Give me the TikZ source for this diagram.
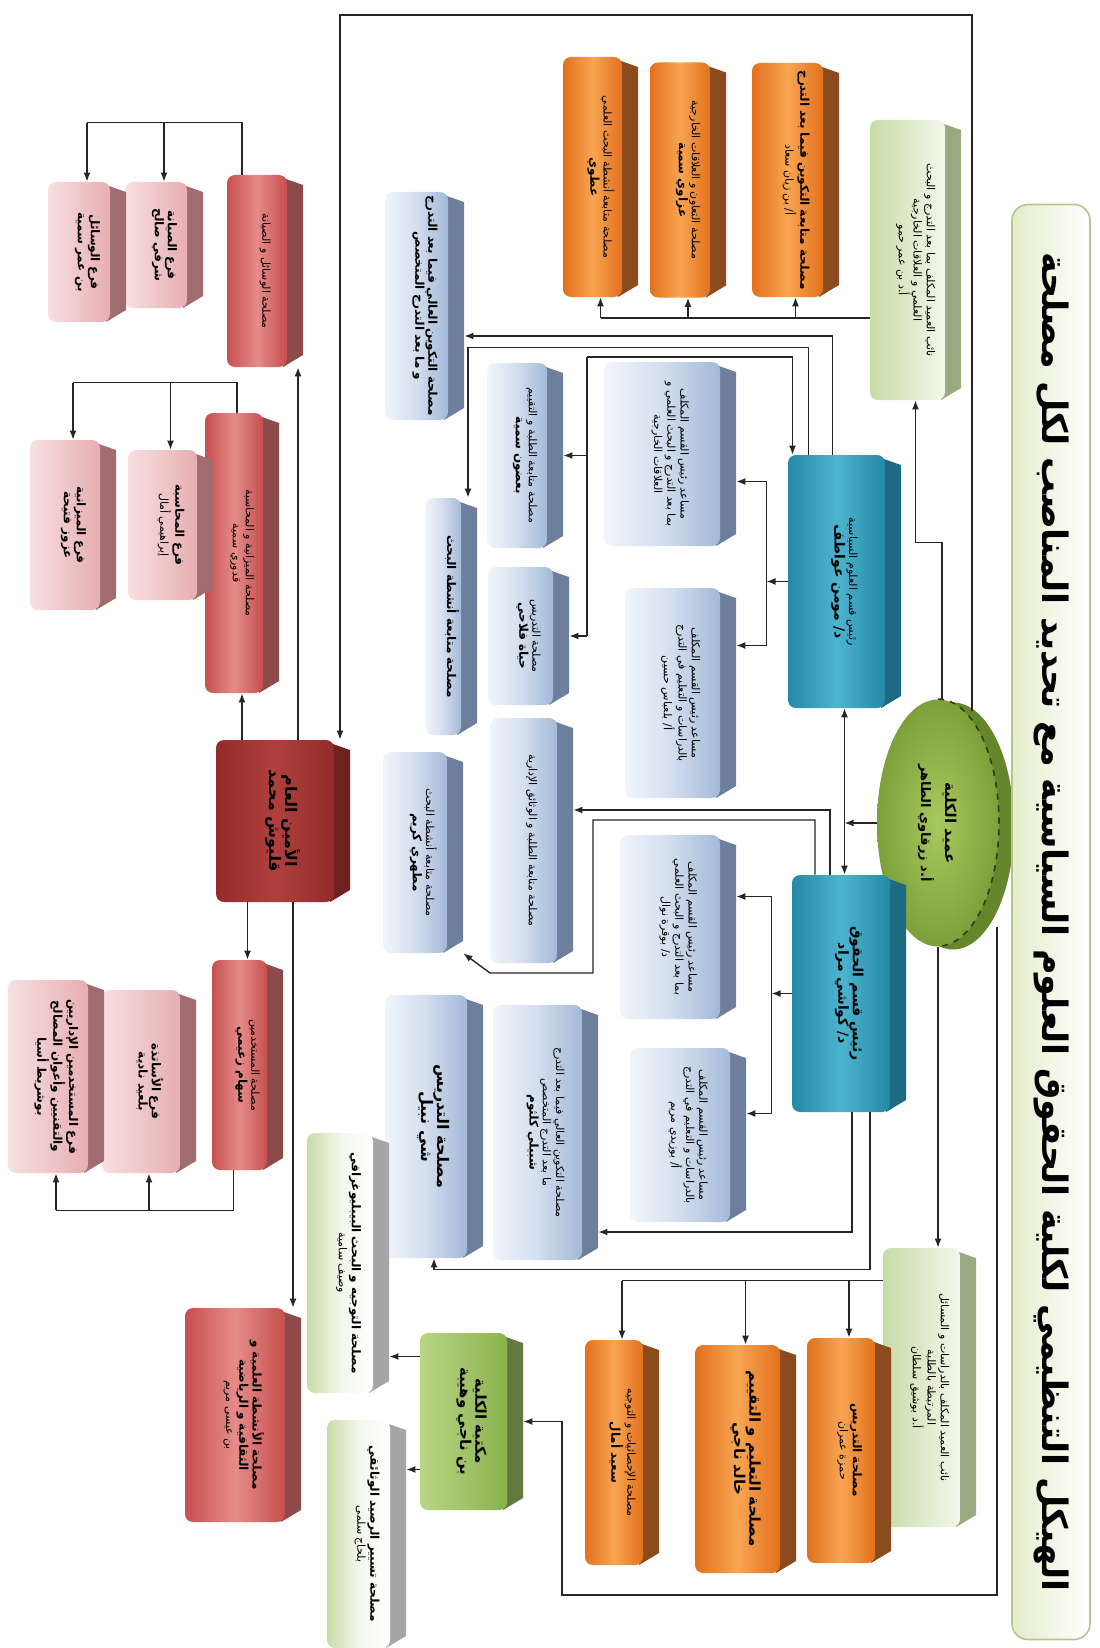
\documentclass[tikz,border=0pt]{standalone}
\usepackage{fontspec}
\usepackage{graphicx}
\usetikzlibrary{arrows.meta,calc,backgrounds,shapes.geometric}
\TeXXeTstate=1
\newfontfamily\arabicfont[Script=Arabic]{DejaVu Sans}

% colours (L = light face, D = dark face, S = side)
\definecolor{orL}{HTML}{F8A552}
\definecolor{orD}{HTML}{E2701C}
\definecolor{orS}{HTML}{8C4A1F}
\definecolor{blL}{HTML}{F1F5FB}
\definecolor{blM}{HTML}{D3DEEE}
\definecolor{blD}{HTML}{A3B8D8}
\definecolor{blS}{HTML}{6D7F9C}
\definecolor{tlL}{HTML}{4DB4CF}
\definecolor{tlD}{HTML}{2588A6}
\definecolor{tlS}{HTML}{1D6A82}
\definecolor{gnL}{HTML}{F3F7EA}
\definecolor{gnD}{HTML}{C6DCA8}
\definecolor{gnS}{HTML}{97AA80}
\definecolor{lgL}{HTML}{B9D683}
\definecolor{lgD}{HTML}{8AB24F}
\definecolor{lgS}{HTML}{62793F}
\definecolor{srL}{HTML}{B0403D}
\definecolor{srD}{HTML}{922B29}
\definecolor{srS}{HTML}{6F2120}
\definecolor{rdL}{HTML}{E58B89}
\definecolor{rdD}{HTML}{C6504E}
\definecolor{rdS}{HTML}{8D4A4B}
\definecolor{pkL}{HTML}{F8E0E1}
\definecolor{pkD}{HTML}{E6AEB1}
\definecolor{pkS}{HTML}{A06C70}
\definecolor{dnL}{HTML}{A8C95E}
\definecolor{dnD}{HTML}{7DA03A}
\definecolor{dnS}{HTML}{66862C}
\definecolor{dnB}{HTML}{2F3A1A}
\definecolor{tiF}{HTML}{E4EDCC}
\definecolor{tiB}{HTML}{B3C78C}

% text turned a quarter turn
\newcommand\vtext[1]{\rotatebox{-90}{\begin{tabular}{@{}c@{}}#1\end{tabular}}}
\newcommand\btext[1]{\vtext{#1}\hspace{8pt}}
\newcommand\namefont{\bfseries\fontsize{6}{7.4}\selectfont}
\newcommand\titlefont{\bfseries\fontsize{17.5}{21}\selectfont}

\tikzset{
	link/.style={draw=black!85, line width=0.7pt},
	arr/.style={link, -{Latex[length=4.5pt,width=3.5pt]}},
	darr/.style={link, {Latex[length=4.5pt,width=3.5pt]}-{Latex[length=4.5pt,width=3.5pt]}},
	wh/.style 2 args={minimum width=#1*0.5pt, minimum height=#2*0.5pt},
	box3d/.style n args={4}{rectangle, inner sep=0pt,
		font=\arabicfont\fontsize{5.5}{6.6}\selectfont,
		path picture={
			\fill[#4] ([xshift=-10pt,yshift=-1.5pt]path picture bounding box.north east)
				-- ([yshift=-5pt]path picture bounding box.north east)
				-- ([yshift=6pt]path picture bounding box.south east)
				-- ([xshift=-10pt]path picture bounding box.south east) -- cycle;
			\shade[left color=#1, right color=#3, middle color=#2, rounded corners=4pt]
				(path picture bounding box.north west) rectangle ([xshift=-8pt]path picture bounding box.south east);
		}},
	orbox/.style={box3d={orD}{orL}{orD}{orS}},
	blbox/.style={box3d={blL}{blM}{blD}{blS}},
	tlbox/.style={box3d={tlD}{tlL}{tlD}{tlS}},
	gnbox/.style={box3d={gnD}{gnL!50!gnD}{gnL}{gnS}},
	wgbox/.style={box3d={gnD}{gnL}{white}{gray!70}},
	lgbox/.style={box3d={lgL}{lgL!50!lgD}{lgD}{lgS}},
	srbox/.style={box3d={srD}{srL}{srD}{srS}},
	rdbox/.style={box3d={rdD}{rdL}{rdD}{rdS}},
	pkbox/.style={box3d={pkL}{pkL!50!pkD}{pkD}{pkS}},
	titlebox/.style={rectangle, rounded corners=8pt, draw=tiB, line width=0.8pt,
		left color=tiF, right color=white, inner sep=0pt, font=\arabicfont},
	deanshape/.style={ellipse, inner sep=0pt, minimum width=61pt, minimum height=123.5pt,
		inner color=dnL, outer color=dnD, font=\arabicfont},
}

\begin{document}
\begin{tikzpicture}[x=0.5pt,y=-0.5pt]
	\useasboundingbox (0,0) rectangle (1099,1648);

	% Title
	\node[titlebox, wh={78}{1435}] (title) at (1051,922) {\vtext{\titlefont\beginR الهيكل التنظيمي لكلية الحقوق العلوم السياسية مع تحديد المناصب لكل مصلحة\endR}};

	% Dean
	\node[deanshape] (dean) at (938,823) {\vtext{\namefont\fontsize{7.5}{9}\selectfont\beginR عميد الكلية\endR\\\namefont\fontsize{6.5}{8}\selectfont\beginR أ.د زرقاوي الطاهر\endR}};

	% Vice-deans and heads of department
	\node[gnbox, wh={91}{280}] (vdpg) at (915.5,260) {\btext{\beginR نائب العميد المكلف بما بعد التدرج و البحث\endR\\\beginR العلمي و العلاقات الخارجية\endR\\\beginR أ.د بن عمر حمو\endR}};
	\node[gnbox, wh={93}{279}] (vdst) at (929.5,1387.5) {\btext{\beginR نائب العميد المكلف بالدراسات و المسائل\endR\\\beginR المرتبطة بالطلبة\endR\\\beginR أ.د بوشيق سلطان\endR}};
	\node[tlbox, wh={113}{253}] (headpol) at (844.5,581.5) {\btext{\beginR رئيس قسم العلوم السياسية\endR\\\namefont\fontsize{7}{8.5}\selectfont\beginR د/ مومن عواطف\endR}};
	\node[tlbox, wh={114}{237}] (headlaw) at (849,993.5) {\btext{\namefont\fontsize{7}{8.5}\selectfont\beginR رئيس قسم الحقوق\endR\\\namefont\fontsize{7}{8.5}\selectfont\beginR د/ كواشي مراد\endR}};

	% Services of the post-graduation vice-dean
	\node[orbox, wh={87}{234}] (pgfollow) at (795.5,180) {\btext{\namefont\beginR مصلحة متابعة التكوين فيما بعد التدرج\endR\\\beginR أ/ بن زيان سعاد\endR}};
	\node[orbox, wh={76}{235}] (coop) at (688,180) {\btext{\beginR مصلحة التعاون و العلاقات الخارجية\endR\\\namefont\beginR عزاوي سمية\endR}};
	\node[orbox, wh={75}{240}] (resact) at (600.5,177) {\btext{\beginR مصلحة متابعة أنشطة البحث العلمي\endR\\\namefont\beginR عطوي\endR}};

	% Political science department
	\node[blbox, wh={79}{228}] (pgtrain) at (424.5,306) {\btext{\namefont\beginR مصلحة التكوين العالي فيما بعد التدرج\endR\\\namefont\beginR و ما بعد التدرج المتخصص\endR}};
	\node[blbox, wh={76}{185}] (polfollow) at (525,455.5) {\btext{\beginR مصلحة متابعة الطلبة و التقييم\endR\\\namefont\beginR بعضون سمية\endR}};
	\node[blbox, wh={132}{184}] (polassistPG) at (670,454) {\btext{\beginR مساعد رئيس القسم المكلف\endR\\\beginR بما بعد التدرج و البحث العلمي و\endR\\\beginR العلاقات الخارجية\endR}};
	\node[blbox, wh={52}{237}] (polresearch) at (451,616.5) {\btext{\namefont\beginR مصلحة متابعة أنشطة البحث\endR}};
	\node[blbox, wh={81}{138}] (polteach) at (528.5,636) {\btext{\beginR مصلحة التدريس\endR\\\namefont\beginR حياة فلاحي\endR}};
	\node[blbox, wh={111}{210}] (polassistST) at (680.5,693) {\btext{\beginR مساعد رئيس القسم المكلف\endR\\\beginR بالدراسات و التعليم في التدرج\endR\\\beginR أ/ بلعباس حسين\endR}};

	% Law department
	\node[blbox, wh={83}{245}] (lawstudents) at (531.5,840.5) {\btext{\beginR مصلحة متابعة الطلبة و الوثائق الإدارية\endR}};
	\node[blbox, wh={80}{201}] (lawresearch) at (423,852.5) {\btext{\beginR مصلحة متابعة أنشطة البحث\endR\\\namefont\beginR مطهري كريم\endR}};
	\node[blbox, wh={116}{184}] (lawassistPG) at (678,927) {\btext{\beginR مساعد رئيس القسم المكلف\endR\\\beginR بما بعد التدرج و البحث العلمي\endR\\\beginR د/ بوقرة نوال\endR}};
	\node[blbox, wh={116}{174}] (lawassistST) at (688,1135) {\btext{\beginR مساعد رئيس القسم المكلف\endR\\\beginR بالدراسات و التعليم في التدرج\endR\\\beginR أ/ بوزيدي مريم\endR}};
	\node[blbox, wh={105}{255}] (lawpgtrain) at (545.5,1132.5) {\btext{\beginR مصلحة التكوين العالي فيما بعد التدرج\endR\\\beginR ما بعد التدرج المتخصص\endR\\\namefont\beginR شبيلي كلثوم\endR}};
	\node[blbox, wh={98}{263}] (lawteach) at (434,1126.5) {\btext{\namefont\fontsize{8}{10}\selectfont\beginR مصلحة التدريس\endR\\\namefont\fontsize{8}{10}\selectfont\beginR شي نبيل\endR}};

	% Services of the studies vice-dean
	\node[orbox, wh={84}{225}] (teaching) at (849,1450.5) {\btext{\namefont\beginR مصلحة التدريس\endR\\\beginR حمزة عمران\endR}};
	\node[orbox, wh={101}{228}] (evaluation) at (745.5,1459) {\btext{\namefont\fontsize{7.5}{9}\selectfont\beginR مصلحة التعليم و التقييم\endR\\\namefont\fontsize{7.5}{9}\selectfont\beginR خالد ناجي\endR}};
	\node[orbox, wh={74}{225}] (stats) at (622,1452.5) {\btext{\beginR مصلحة الإحصائيات و التوجيه\endR\\\namefont\beginR سعيد أمال\endR}};

	% Library
	\node[lgbox, wh={103}{177}] (library) at (471.5,1421.5) {\btext{\namefont\fontsize{7.5}{9}\selectfont\beginR مكتبة الكلية\endR\\\namefont\fontsize{7.5}{9}\selectfont\beginR بن ناجي وهيبة\endR}};
	\node[wgbox, wh={82}{260}] (biblio) at (348,1263) {\btext{\namefont\beginR مصلحة التوجيه و البحث البيبليوغرافي\endR\\\beginR وصيف سامية\endR}};
	\node[wgbox, wh={79}{228}] (docs) at (366.5,1534) {\btext{\namefont\beginR مصلحة تسيير الرصيد الوثائقي\endR\\\beginR بلحاج سلمى\endR}};

	% Secretary general and his services
	\node[srbox, wh={134}{162}] (secgen) at (283,821) {\btext{\namefont\fontsize{8}{10}\selectfont\beginR الأمين العام\endR\\\namefont\fontsize{8}{10}\selectfont\beginR قليوش محمد\endR}};
	\node[rdbox, wh={76}{192}] (means) at (265,271) {\btext{\beginR مصلحة الوسائل و الصيانة\endR}};
	\node[rdbox, wh={74}{280}] (budget) at (242,553) {\btext{\beginR مصلحة الميزانية و المحاسبة\endR\\\beginR قدوري سمية\endR}};
	\node[rdbox, wh={71}{210}] (staff) at (247.5,1065) {\btext{\beginR مصلحة المستخدمين\endR\\\namefont\beginR سهام زعيمي\endR}};
	\node[rdbox, wh={116}{214}] (culture) at (243,1415) {\btext{\namefont\beginR مصلحة الأنشطة العلمية و\endR\\\namefont\beginR الثقافية و الرياضية\endR\\\beginR بن عيسى مريم\endR}};
	\node[pkbox, wh={78}{126}] (maint) at (164,245) {\btext{\namefont\beginR فرع الصيانة\endR\\\namefont\beginR شرفي صالح\endR}};
	\node[pkbox, wh={78}{140}] (equip) at (87,252) {\btext{\namefont\beginR فرع الوسائل\endR\\\namefont\beginR بن عمر سمية\endR}};
	\node[pkbox, wh={85}{150}] (account) at (170.5,525) {\btext{\namefont\beginR فرع المحاسبة\endR\\\beginR إبراهيمي أمال\endR}};
	\node[pkbox, wh={86}{170}] (budgetb) at (73,525) {\btext{\namefont\beginR فرع الميزانية\endR\\\namefont\beginR عزوز فتيحة\endR}};
	\node[pkbox, wh={94}{183}] (profs) at (149,1081.5) {\btext{\namefont\beginR فرع الأساتذة\endR\\\namefont\beginR بلعيد نادية\endR}};
	\node[pkbox, wh={96}{193}] (admin) at (56,1076.5) {\btext{\namefont\beginR فرع المستخدمين الإداريين\endR\\\namefont\beginR والتقنيين وأعوان المصالح\endR\\\namefont\beginR بوشريط أسيا\endR}};

	% 3D side of the dean's ellipse
	\begin{scope}[on background layer]
		\fill[dnS] ($(dean.center)+(15,3)$) ellipse [x radius=30.5pt, y radius=61.75pt];
	\end{scope}
	\draw[dnB, dashed, line width=0.8pt] (dean.north) arc[start angle=90, end angle=-90, x radius=30.5pt, y radius=61.75pt];

	% Dean to vice-deans, heads, secretary and library
	\coordinate (j1) at ($(vdpg.south)+(0,142)$);
	\draw[arr] ($(dean.north)+(4,0)$) |- (j1) -- (vdpg.south);
	\coordinate (loop) at (340,15);
	\draw[arr] ($(dean.north)+(34,12)$) |- (loop) -- (loop |- secgen.north);
	\draw[arr] (dean.west) -- (dean.west -| headpol.south);
	\draw[darr] (headpol.south) -- (headpol.south |- headlaw.north);
	\draw[arr] (dean.south) -- (dean.south |- vdst.north);
	\coordinate (j2) at (562,1595);
	\draw[arr] ($(dean.south)+(59,-20)$) |- (j2) |- (library.east);

	% Post-graduation vice-dean to its services
	\coordinate (j3) at ($(vdpg.west)+(0,58)$);
	\draw[link] (j3) -- (j3 -| resact.south);
	\foreach \n in {pgfollow,coop,resact}
		\draw[arr] (j3 -| \n.south) -- (\n.south);

	% Studies vice-dean to its services
	\coordinate (j4) at ($(vdst.west)+(0,-107)$);
	\draw[link] (j4) -- (j4 -| stats.north);
	\foreach \n in {teaching,evaluation,stats}
		\draw[arr] (j4 -| \n.north) -- (\n.north);

	% Head of political science
	\coordinate (j5) at ($(headpol.west)+(-21,0)$);
	\coordinate (j5u) at ($(j5)+(0,-100)$);
	\coordinate (j5d) at ($(j5)+(0,64)$);
	\draw[arr] (headpol.west) -- (j5);
	\draw[link] (j5u) -- (j5d);
	\draw[arr] (j5u) -- (j5u -| polassistPG.east);
	\draw[arr] (j5d) -- (j5d -| polassistST.east);
	\draw[arr] ($(headpol.north)+(-12,0)$) |- (pgtrain.east |- 0,336);
	\draw[arr] ($(headpol.north)+(-36,0)$) |- ($(polresearch.north)+(17,-150)$) -- ($(polresearch.north)+(17,0)$);
	\coordinate (j6) at (587,357);
	\draw[arr] (j6) -| ($(headpol.north)+(-52,0)$);
	\draw[link] (j6) -- (j6 |- polteach.east);
	\draw[arr] (j6 |- polfollow.east) -- (polfollow.east);
	\draw[arr] (j6 |- polteach.east) -- (polteach.east);

	% Head of law
	\coordinate (j7) at ($(headlaw.west)+(-20,0)$);
	\coordinate (j7u) at ($(j7)+(0,-97)$);
	\coordinate (j7d) at ($(j7)+(0,120)$);
	\draw[arr] (headlaw.west) -- (j7);
	\draw[link] (j7u) -- (j7d);
	\draw[arr] (j7u) -- (j7u -| lawassistPG.east);
	\draw[arr] (j7d) -- (j7d -| lawassistST.east);
	\draw[arr] ($(headlaw.north)+(-19,0)$) |- (lawstudents.east |- 0,810);
	\draw[arr] ($(headlaw.north)+(-34,0)$) |- (593,820) |- (490,973) -- (lawresearch.south east);
	\draw[arr] ($(headlaw.south)+(3,0)$) |- (lawpgtrain.east |- 0,1232);
	\draw[arr] ($(headlaw.south)+(21,0)$) |- ($(lawteach.south)+(0,11)$) -- (lawteach.south);

	% Library to its services
	\coordinate (j8) at ($(library.west)+(0,-65)$);
	\coordinate (j9) at ($(library.west)+(0,48)$);
	\draw[arr] (j8) -- (j8 -| biblio.east);
	\draw[arr] (j9) -- (j9 -| docs.east);

	% Secretary general to his services
	\draw[arr] (secgen.north -| budget.south) -- (budget.south);
	\draw[arr] (secgen.south -| staff.north) -- (staff.north);
	\draw[arr] (secgen.north -| 298,0) -- (means.south -| 298,0);
	\draw[arr] (secgen.south -| 293,0) -- (culture.north -| 293,0);

	% Services to their branches
	\coordinate (j10) at ($(means.north)+(-23,-52)$);
	\draw[link] ($(means.north)+(-23,0)$) -- (j10) -- (j10 -| equip.north);
	\foreach \n in {maint,equip}
		\draw[arr] (j10 -| \n.north) -- (\n.north);
	\coordinate (j11) at ($(budget.north)+(-5,-30)$);
	\draw[link] ($(budget.north)+(-5,0)$) -- (j11) -- (j11 -| budgetb.north);
	\foreach \n in {account,budgetb}
		\draw[arr] (j11 -| \n.north) -- (\n.north);
	\coordinate (j12) at ($(staff.south)+(-14,40)$);
	\draw[link] ($(staff.south)+(-14,0)$) -- (j12) -- (j12 -| admin.south);
	\foreach \n in {profs,admin}
		\draw[arr] (j12 -| \n.south) -- (\n.south);
\end{tikzpicture}
\end{document}
